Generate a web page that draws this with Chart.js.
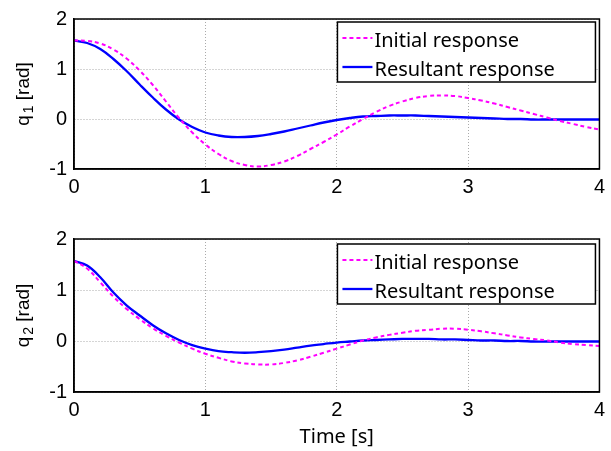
<!DOCTYPE html>
<html><head><meta charset="utf-8">
<script src="https://cdn.jsdelivr.net/npm/chart.js@4"></script>
<style>
html,body{margin:0;padding:0;background:#fff;}
#w1{position:absolute;left:0;top:0;width:611px;height:200px;}
#w2{position:absolute;left:0;top:220px;width:611px;height:231px;}
</style></head><body>
<div id="w1"><canvas id="c1" width="611" height="200"></canvas></div>
<div id="w2"><canvas id="c2" width="611" height="231"></canvas></div>
<script>
const time = [0.0,0.1,0.2,0.3,0.4,0.5,0.6,0.7,0.8,0.9,1.0,1.1,1.2,1.3,1.4,1.5,1.6,1.7,1.8,1.9,2.0,
  2.1,2.2,2.3,2.4,2.5,2.6,2.7,2.8,2.9,3.0,3.1,3.2,3.3,3.4,3.5,3.6,3.7,3.8,3.9,4.0];
const q1Initial = [1.57,1.56,1.51,1.39,1.21,0.97,0.68,0.35,0.02,-0.27,-0.51,-0.70,-0.84,-0.92,-0.95,-0.92,-0.85,-0.74,-0.60,-0.46,-0.31,
  -0.15,0.00,0.14,0.26,0.35,0.42,0.46,0.47,0.46,0.42,0.37,0.31,0.24,0.17,0.10,0.03,-0.04,-0.10,-0.16,-0.21];
const q1Resultant = [1.57,1.52,1.40,1.20,0.96,0.69,0.43,0.19,-0.01,-0.16,-0.27,-0.33,-0.36,-0.36,-0.34,-0.30,-0.25,-0.19,-0.13,-0.07,-0.02,
  0.02,0.05,0.06,0.07,0.07,0.07,0.06,0.05,0.04,0.03,0.02,0.01,0.00,0.00,-0.01,-0.01,-0.01,-0.01,-0.01,-0.01];
const q2Initial = [1.57,1.42,1.15,0.87,0.63,0.43,0.25,0.10,-0.03,-0.15,-0.25,-0.33,-0.40,-0.44,-0.46,-0.46,-0.43,-0.38,-0.31,-0.23,-0.15,
  -0.07,0.01,0.07,0.12,0.16,0.20,0.22,0.24,0.24,0.22,0.19,0.15,0.11,0.07,0.04,0.01,-0.03,-0.06,-0.08,-0.10];
const q2Resultant = [1.57,1.48,1.25,0.95,0.70,0.50,0.31,0.15,0.02,-0.08,-0.15,-0.20,-0.22,-0.23,-0.22,-0.20,-0.17,-0.13,-0.09,-0.06,-0.03,
  -0.01,0.01,0.02,0.03,0.04,0.04,0.04,0.03,0.03,0.02,0.01,0.01,0.00,0.00,-0.01,-0.01,-0.01,-0.01,-0.01,-0.01];
const xTicks = [0,1,2,3,4];
const yTicks = [-1,0,1,2];
const seriesLabels = ['Initial response','Resultant response'];
const xTitle = 'Time [s]';

const pts = (ys) => time.map((t, i) => ({x: t, y: ys[i]}));

const decorPlugin = {
  id: 'decor',
  afterDraw(chart, args, opts) {
    const {ctx, chartArea: a} = chart;
    ctx.save();
    ctx.setLineDash([]);
    ctx.strokeStyle = '#000'; ctx.lineWidth = 1.5;
    ctx.strokeRect(a.left, a.top, a.right - a.left, a.bottom - a.top);
    // legend box
    const lx = a.right - 262, ly = a.top + opts.legendDy, lw = 258, lh = 60;
    ctx.fillStyle = '#fff';
    ctx.fillRect(lx, ly, lw, lh);
    ctx.strokeRect(lx, ly, lw, lh);
    chart.data.datasets.forEach((ds, i) => {
      const yl = ly + 16 + i * 29;
      ctx.beginPath();
      ctx.setLineDash(ds.borderDash || []);
      ctx.strokeStyle = ds.borderColor; ctx.lineWidth = ds.borderWidth;
      ctx.moveTo(lx + 5, yl); ctx.lineTo(lx + 35, yl); ctx.stroke();
      ctx.setLineDash([]);
      ctx.fillStyle = '#000'; ctx.font = '20px "Noto Sans"';
      ctx.textBaseline = 'middle'; ctx.textAlign = 'left';
      ctx.fillText(ds.label, lx + 37, yl + 3);
    });
    // y title with subscript
    const cy = (a.top + a.bottom) / 2;
    ctx.translate(29, cy); ctx.rotate(-Math.PI / 2);
    const f1 = '19px "Liberation Sans"', f2 = '14px "Liberation Sans"';
    ctx.font = f1; const wq = ctx.measureText('q').width; const wr = ctx.measureText(' [rad]').width;
    ctx.font = f2; const ws = ctx.measureText(opts.sub).width;
    const x0 = -(wq + ws + wr + 2) / 2;
    ctx.fillStyle = '#000'; ctx.textAlign = 'left'; ctx.textBaseline = 'alphabetic';
    ctx.font = f1; ctx.fillText('q', x0, 0);
    ctx.font = f2; ctx.fillText(opts.sub, x0 + wq + 2, 4);
    ctx.font = f1; ctx.fillText(' [rad]', x0 + wq + ws + 2, 0);
    ctx.restore();
  }
};

function makeChart(id, dataI, dataR, sub, padTop, xAxisH, legendDy, showXTitle) {
  return new Chart(document.getElementById(id), {
    type: 'line',
    data: {
      datasets: [
        {label: seriesLabels[0], data: pts(dataI), borderColor: '#ff00ff', borderWidth: 2,
         borderDash: [4, 3], pointRadius: 0, tension: 0.4, fill: false},
        {label: seriesLabels[1], data: pts(dataR), borderColor: '#0000ff', borderWidth: 2.3,
         pointRadius: 0, tension: 0.4, fill: false}
      ]
    },
    options: {
      responsive: false, animation: false, devicePixelRatio: 1,
      layout: {padding: {top: padTop, right: 7, left: 0, bottom: 0}},
      plugins: {legend: {display: false}, tooltip: {enabled: false}, decor: {sub: sub, legendDy: legendDy}},
      scales: {
        x: {
          type: 'linear', min: 0, max: 4,
          afterBuildTicks: (s) => { s.ticks = xTicks.map(v => ({value: v})); },
          ticks: {font: {family: 'Liberation Sans', size: 20}, color: '#000', padding: 6, maxRotation: 0},
          grid: {color: '#aaa', lineWidth: 1, drawTicks: false},
          border: {display: true, color: '#000', width: 1.5, dash: [1, 2]},
          title: {display: showXTitle, text: xTitle, font: {family: 'Noto Sans', size: 20}, color: '#000', padding: {top: 0, bottom: 2}},
          afterFit: (s) => { s.height = xAxisH; }
        },
        y: {
          type: 'linear', min: -1, max: 2,
          afterBuildTicks: (s) => { s.ticks = yTicks.map(v => ({value: v})); },
          ticks: {font: {family: 'Liberation Sans', size: 20}, color: '#000', padding: 7},
          grid: {color: '#aaa', lineWidth: 1, drawTicks: false},
          border: {display: true, color: '#000', width: 1.5, dash: [1, 2]},
          afterFit: (s) => { s.width = 74; }
        }
      }
    },
    plugins: [decorPlugin]
  });
}

makeChart('c1', q1Initial, q1Resultant, '1', 15, 31, 3, false);
makeChart('c2', q2Initial, q2Resultant, '2', 17, 59, 5, true);
</script>
</body></html>
